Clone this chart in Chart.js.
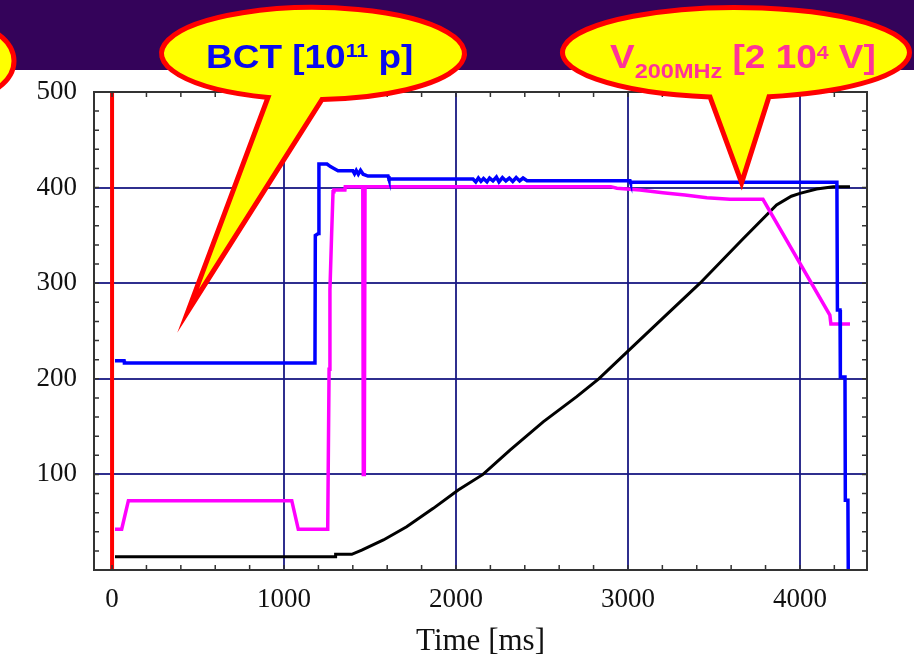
<!DOCTYPE html>
<html>
<head>
<meta charset="utf-8">
<title>SPS cycle: BCT, V200MHz, momentum</title>
<script src="https://cdn.jsdelivr.net/npm/chart.js@4.4.1/dist/chart.umd.min.js"></script>
<style>
  html, body { margin: 0; padding: 0; background: #fff; }
  #wrap { width: 914px; height: 662px; position: relative; }
</style>
</head>
<body>
<div id="wrap"><canvas id="cycle"></canvas></div>
<script>
// axis ticks
const majorTimes = [0, 1000, 2000, 3000, 4000];
const majorLevels = [100, 200, 300, 400, 500];

// injection marker at t = 0
const injectionTime = [0, 0];
const injectionValue = [0, 500];

// beam current transformer [1e11 p]
const bctTime = [17, 70, 72, 1180, 1182, 1200, 1203, 1250, 1270, 1285, 1314, 1400, 1410, 1420, 1432, 1445, 1460, 1488,
  1605, 1610, 2099, 2115, 2130, 2145, 2160, 2180, 2195, 2215, 2235, 2250, 2270, 2290, 2310, 2330, 2350, 2370, 2390,
  2413, 3012, 3015, 4215, 4218, 4233, 4235, 4262, 4264, 4279, 4281];
const bctValue = [219, 219, 216.5, 216.5, 350, 352, 424.7, 424.7, 422, 420.5, 417.7, 417.7, 414.5, 418, 414, 418, 414, 412.1,
  412.1, 409, 409, 406, 410, 406.5, 409.5, 406, 410, 407, 411, 406, 410.5, 407, 410, 406.5, 410.5, 407, 410,
  407.2, 407.2, 405.5, 405.5, 272, 272, 202, 202, 73, 73, 0];

// 200 MHz RF voltage [2e4 V]
const rfTime = [17, 56, 95, 1045, 1083, 1254, 1262, 1267, 1277, 1285, 1290, 1354, 1356, 1458, 1461, 1467, 1471,
  2900, 2936, 3070, 3203, 3331, 3459, 3593, 3785, 4174, 4180, 4291];
const rfValue = [42.6, 42.6, 72.5, 72.5, 42.6, 42.6, 210, 293, 352.5, 395.7, 397.5, 397.5, 401, 401, 100, 100, 401,
  401, 399.3, 397.5, 394.7, 392.3, 389.5, 387.8, 387.8, 266.7, 257.3, 257.3];

// momentum ramp
const momentumTime = [17, 1297, 1300, 1394, 1452, 1578, 1713, 1868, 2013, 2157, 2314, 2507, 2702, 2830,
  3000, 3200, 3419, 3661, 3864, 3950, 4000, 4097, 4194, 4291];
const momentumValue = [13.9, 13.9, 16.4, 16.4, 20.9, 31.4, 45.3, 64.5, 83.7, 100, 125.5, 155, 181.3, 200,
  229, 263, 300, 345, 381.8, 391, 394, 398.5, 401, 401];

// where the callout tails point, in data units
const bctTip = { x: 442, y: 271 };
const rfTip = { x: 3661, y: 405 };

function toPoints(ts, vs) {
  return ts.map((t, i) => ({ x: t, y: vs[i] }));
}

const serif = '"Liberation Serif", "Times New Roman", serif';
const sans = '"Liberation Sans", Arial, sans-serif';
const gridColor = 'rgba(24, 24, 130, 0.9)';

// speech bubbles: ellipse plus a pointed tail
const bubbles = [
  { cx: -67, cy: 61, rx: 81, ry: 45 },
  { cx: 313, cy: 53.5, rx: 151.5, ry: 46, baseL: 268, baseR: 322, tip: bctTip,
    color: '#0a0aee', x0: 206,
    parts: [{ t: 'BCT [10', size: 33, dy: 0 }, { t: '11', size: 19, dy: -11 }, { t: ' p]', size: 33, dy: 0 }] },
  { cx: 736, cy: 52.5, rx: 173.5, ry: 45, baseL: 710, baseR: 769, tip: rfTip,
    color: '#ff3399', x0: 610,
    parts: [{ t: 'V', size: 33, dy: 0 }, { t: '200MHz', size: 21, dy: 10 }, { t: ' [2 10', size: 33, dy: 0 },
      { t: '4', size: 19, dy: -9 }, { t: ' V]', size: 33, dy: 0 }] }
];

function drawBubble(ctx, b, tipPx) {
  ctx.save();
  ctx.beginPath();
  if (tipPx) {
    const aL = Math.acos((b.baseL - b.cx) / b.rx);
    const aR = Math.acos((b.baseR - b.cx) / b.rx);
    ctx.ellipse(b.cx, b.cy, b.rx, b.ry, 0, aL, aR, false);
    ctx.lineTo(tipPx.x, tipPx.y);
    ctx.closePath();
  } else {
    ctx.ellipse(b.cx, b.cy, b.rx, b.ry, 0, 0, Math.PI * 2);
  }
  ctx.fillStyle = '#ffff00';
  ctx.fill();
  ctx.lineWidth = 5;
  ctx.strokeStyle = '#ff0000';
  ctx.lineJoin = 'miter';
  ctx.miterLimit = 20;
  ctx.stroke();

  if (b.parts) {
    // text is drawn slightly wide, like the slide it came from
    ctx.translate(b.x0, 68);
    ctx.scale(1.12, 1);
    ctx.fillStyle = b.color;
    ctx.textBaseline = 'alphabetic';
    let x = 0;
    b.parts.forEach(p => {
      ctx.font = 'bold ' + p.size + 'px ' + sans;
      ctx.fillText(p.t, x, p.dy);
      x += ctx.measureText(p.t).width;
    });
  }
  ctx.restore();
}

const framePlugin = {
  id: 'frame',
  beforeDraw(chart) {
    const ctx = chart.ctx;
    ctx.save();
    ctx.fillStyle = '#ffffff';
    ctx.fillRect(0, 0, chart.width, chart.height);
    // title band
    ctx.fillStyle = '#34035a';
    ctx.fillRect(0, 0, chart.width, 70);
    ctx.restore();
  },
  afterDatasetsDraw(chart) {
    const ctx = chart.ctx;
    const a = chart.chartArea;
    const xs = chart.scales.x, ys = chart.scales.y;
    ctx.save();
    ctx.strokeStyle = '#333';
    ctx.lineWidth = 1.5;
    // minor ticks pointing inwards on all four sides
    ctx.beginPath();
    for (let t = 0; t <= xs.max; t += 200) {
      const px = xs.getPixelForValue(t);
      ctx.moveTo(px, a.bottom); ctx.lineTo(px, a.bottom - 5);
      ctx.moveTo(px, a.top); ctx.lineTo(px, a.top + 5);
    }
    for (let v = 0; v <= ys.max; v += 20) {
      const py = ys.getPixelForValue(v);
      ctx.moveTo(a.left, py); ctx.lineTo(a.left + 5, py);
      ctx.moveTo(a.right, py); ctx.lineTo(a.right - 5, py);
    }
    ctx.stroke();
    ctx.lineWidth = 2;
    ctx.strokeRect(a.left, a.top, a.right - a.left, a.bottom - a.top);
    ctx.restore();
  },
  afterDraw(chart) {
    const ctx = chart.ctx;
    const xs = chart.scales.x, ys = chart.scales.y;
    bubbles.forEach(b => {
      const tipPx = b.tip ? { x: xs.getPixelForValue(b.tip.x), y: ys.getPixelForValue(b.tip.y) } : null;
      drawBubble(ctx, b, tipPx);
    });
  }
};

const lineSet = (label, ts, vs, color, width) => ({
  label: label,
  data: toPoints(ts, vs),
  showLine: true,
  borderColor: color,
  backgroundColor: color,
  borderWidth: width,
  pointRadius: 0,
  tension: 0,
  fill: false
});

new Chart(document.getElementById('cycle'), {
  type: 'scatter',
  data: {
    datasets: [
      lineSet('injection', injectionTime, injectionValue, '#ff0000', 4),
      lineSet('BCT [10^11 p]', bctTime, bctValue, '#0000ff', 3.5),
      lineSet('V200MHz [2 10^4 V]', rfTime, rfValue, '#ff00ff', 3.5),
      lineSet('momentum', momentumTime, momentumValue, '#000000', 3)
    ]
  },
  options: {
    responsive: true,
    maintainAspectRatio: false,
    animation: false,
    layout: { padding: { top: 92, right: 47, left: 0, bottom: 0 } },
    plugins: { legend: { display: false }, tooltip: { enabled: false } },
    scales: {
      x: {
        type: 'linear',
        min: -105,
        max: 4390,
        afterBuildTicks: s => { s.ticks = majorTimes.map(v => ({ value: v })); },
        afterFit: s => { s.height = 92; },
        border: { display: false },
        grid: { color: gridColor, lineWidth: 2, drawTicks: false },
        ticks: {
          autoSkip: false, maxRotation: 0, padding: 14, color: '#111',
          font: { family: serif, size: 27 },
          callback: v => String(v)
        },
        title: {
          display: true, text: 'Time [ms]', color: '#111',
          font: { family: serif, size: 31 }, padding: { top: 0, bottom: 2 }
        }
      },
      y: {
        min: 0,
        max: 500,
        afterBuildTicks: s => { s.ticks = majorLevels.map(v => ({ value: v })); },
        afterFit: s => { s.width = 94; },
        border: { display: false },
        grid: { color: gridColor, lineWidth: 2, drawTicks: false },
        ticks: {
          padding: 17, color: '#111',
          font: { family: serif, size: 27 }
        }
      }
    }
  },
  plugins: [framePlugin]
});
</script>
</body>
</html>
